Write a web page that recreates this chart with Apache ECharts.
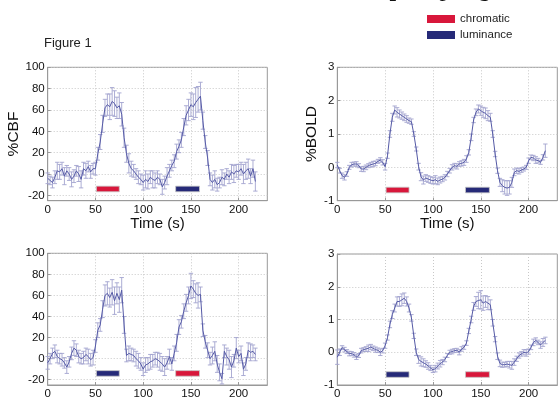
<!DOCTYPE html>
<html>
<head>
<meta charset="utf-8">
<script src="https://cdn.jsdelivr.net/npm/echarts@6/dist/echarts.min.js"></script>
<style>
html, body { margin: 0; padding: 0; background: #fff; }
#chart { width: 558px; height: 400px; }
</style>
</head>
<body>
<div id="chart"></div>
<script>
// sample times (s), one scan every 2.5 s
const times = [
  0, 2.5, 5, 7.5, 10, 12.5, 15, 17.5, 20, 22.5,
  25, 27.5, 30, 32.5, 35, 37.5, 40, 42.5, 45, 47.5,
  50, 52.5, 55, 57.5, 60, 62.5, 65, 67.5, 70, 72.5,
  75, 77.5, 80, 82.5, 85, 87.5, 90, 92.5, 95, 97.5,
  100, 102.5, 105, 107.5, 110, 112.5, 115, 117.5, 120, 122.5,
  125, 127.5, 130, 132.5, 135, 137.5, 140, 142.5, 145, 147.5,
  150, 152.5, 155, 157.5, 160, 162.5, 165, 167.5, 170, 172.5,
  175, 177.5, 180, 182.5, 185, 187.5, 190, 192.5, 195, 197.5,
  200, 202.5, 205, 207.5, 210, 212.5, 215, 217.5
]

// top row: chromatic first
const cbfTop = [
  -4, -6, -8, -3, 3, 2, 5, -2, 3, 0,
  -5, -2, 3, 0, -5, 5, 3, 7, 2, 5,
  5, 19, 30, 47, 62, 65, 63, 68, 66, 62,
  64, 56, 34, 19, 10, 5, 3, 0, -3, -5,
  -8, -5, -7, -3, -5, -6, -3, -5, -12, -8,
  -2, 3, 8, 12, 21, 26, 32, 44, 55, 60,
  65, 63, 67, 70, 73, 50, 30, 15, -5, -8,
  -5, -10, -8, -3, -5, 0, -3, 2, 0, 3,
  2, 5, 0, 3, 5, -2, 5, -7
]
const cbfTopErr = [
  5, 4, 5, 6, 8, 7, 6, 8, 5, 6,
  7, 6, 5, 7, 8, 6, 7, 5, 6, 5,
  6, 6, 7, 8, 8, 10, 12, 13, 12, 10,
  12, 11, 9, 8, 9, 7, 6, 5, 6, 5,
  7, 8, 7, 6, 8, 7, 6, 5, 7, 6,
  8, 6, 5, 6, 7, 6, 7, 8, 9, 10,
  11, 12, 14, 12, 13, 8, 6, 7, 6, 7,
  8, 6, 5, 7, 6, 5, 6, 7, 8, 6,
  7, 6, 9, 8, 9, 7, 8, 9
]
const boldTop = [
  0.07, -0.1, -0.25, -0.3, -0.2, 0.0, 0.08, 0.1, 0.1, 0.05,
  -0.05, -0.05, 0.0, 0.05, 0.08, 0.1, 0.12, 0.18, 0.22, 0.15,
  0.02, 0.35, 1.0, 1.5, 1.72, 1.65, 1.6, 1.55, 1.5, 1.45,
  1.4, 1.37, 1.0, 0.55, 0.02, -0.28, -0.38, -0.32, -0.35, -0.38,
  -0.4, -0.37, -0.42, -0.38, -0.35, -0.3, -0.2, -0.1, 0.0, 0.05,
  0.03, 0.1, 0.12, 0.15, 0.25, 0.45, 0.9, 1.42, 1.65, 1.75,
  1.7, 1.65, 1.62, 1.55, 1.5, 1.0, 0.4, -0.1, -0.45, -0.55,
  -0.6, -0.62, -0.6, -0.45, -0.15, -0.1, -0.12, -0.08, -0.05, 0.0,
  0.2, 0.3, 0.28, 0.22, 0.2, 0.15, 0.3, 0.5
]
const boldTopErr = [
  0.08, 0.07, 0.08, 0.08, 0.07, 0.06, 0.07, 0.06, 0.07, 0.06,
  0.07, 0.08, 0.07, 0.06, 0.07, 0.08, 0.07, 0.06, 0.07, 0.08,
  0.1, 0.08, 0.1, 0.12, 0.12, 0.14, 0.12, 0.11, 0.1, 0.1,
  0.08, 0.08, 0.07, 0.06, 0.1, 0.12, 0.12, 0.1, 0.1, 0.1,
  0.1, 0.12, 0.1, 0.09, 0.08, 0.08, 0.08, 0.07, 0.08, 0.07,
  0.08, 0.07, 0.08, 0.09, 0.1, 0.08, 0.1, 0.08, 0.1, 0.12,
  0.14, 0.15, 0.16, 0.15, 0.12, 0.1, 0.08, 0.08, 0.12, 0.18,
  0.2, 0.22, 0.2, 0.15, 0.1, 0.08, 0.08, 0.07, 0.06, 0.06,
  0.08, 0.07, 0.08, 0.1, 0.07, 0.06, 0.08, 0.2
]

// bottom row: luminance first
const cbfBottom = [
  -4, 0, 5, 7, 2, 0, -1, -4, -8, -3,
  5, 10, 8, 2, 0, 1, 4, 2, -1, 1,
  12, 27, 32, 47, 60, 62, 58, 63, 55, 62,
  56, 65, 32, 3, 5, 4, 3, 0, -2, -5,
  -10, -6, -5, -3, -2, 0, -1, -3, -5, -8,
  -4, 2, -5, 5, 15, 30, 35, 45, 53, 60,
  69, 66, 62, 60, 61, 27, 16, 8, 0, 3,
  7, -5, -13, -19, 7, 2, -1, -8, -2, 10,
  2, 5, -10, -5, 8, 6, 7, 4
]
const cbfBottomErr = [
  6, 5, 5, 6, 6, 5, 6, 5, 6, 5,
  6, 7, 6, 6, 5, 6, 6, 7, 6, 7,
  6, 7, 6, 8, 10, 11, 9, 12, 13, 10,
  12, 12, 8, 6, 7, 6, 6, 7, 7, 6,
  6, 7, 6, 7, 6, 6, 7, 8, 7, 8,
  6, 7, 6, 7, 8, 7, 6, 7, 8, 8,
  12, 8, 9, 12, 7, 6, 6, 7, 6, 8,
  9, 8, 8, 5, 6, 8, 9, 10, 6, 10,
  6, 7, 6, 6, 7, 8, 6, 6
]
const boldBottom = [
  -0.15, 0.0, 0.14, 0.08, 0.02, -0.04, -0.04, -0.08, -0.14, -0.1,
  0.05, 0.08, 0.1, 0.12, 0.16, 0.12, 0.08, 0.06, 0.0, 0.05,
  0.2, 0.45, 0.85, 1.15, 1.35, 1.55, 1.55, 1.6, 1.65, 1.55,
  1.35, 1.05, 0.5, 0.0, -0.22, -0.28, -0.32, -0.36, -0.42, -0.48,
  -0.54, -0.5, -0.42, -0.35, -0.3, -0.22, -0.1, 0.0, 0.02, 0.05,
  0.06, 0.0, 0.1, 0.15, 0.28, 0.65, 1.0, 1.4, 1.55, 1.58,
  1.6, 1.5, 1.55, 1.5, 1.45, 0.9, 0.4, -0.12, -0.34, -0.38,
  -0.38, -0.36, -0.38, -0.4, -0.3, -0.2, -0.1, -0.05, 0.0, -0.02,
  0.02, 0.15, 0.3, 0.36, 0.3, 0.22, 0.3, 0.36
]
const boldBottomErr = [
  0.22, 0.1, 0.06, 0.07, 0.06, 0.07, 0.06, 0.07, 0.08, 0.06,
  0.07, 0.06, 0.07, 0.1, 0.08, 0.07, 0.08, 0.07, 0.1, 0.07,
  0.08, 0.08, 0.1, 0.12, 0.12, 0.14, 0.15, 0.18, 0.16, 0.14,
  0.12, 0.1, 0.08, 0.1, 0.12, 0.14, 0.12, 0.1, 0.1, 0.08,
  0.08, 0.1, 0.09, 0.1, 0.08, 0.07, 0.06, 0.06, 0.07, 0.06,
  0.06, 0.08, 0.07, 0.06, 0.07, 0.08, 0.1, 0.12, 0.15, 0.25,
  0.28, 0.22, 0.18, 0.2, 0.15, 0.1, 0.08, 0.1, 0.1, 0.08,
  0.07, 0.08, 0.1, 0.12, 0.1, 0.08, 0.08, 0.07, 0.08, 0.1,
  0.08, 0.07, 0.1, 0.08, 0.07, 0.1, 0.12, 0.1
]

// stimulus blocks [start, end] in seconds
const blockA = [51, 75]
const blockB = [134, 159]
const cbfBlockLevel = -14
const boldBlockLevel = -0.68

const xTicks = [0, 50, 100, 150, 200]
const cbfTicks = [-20, 0, 20, 40, 60, 80, 100]
const boldTicks = [-1, 0, 1, 2, 3]

const chromaticColor = '#d8173b'
const luminanceColor = '#262a78'
const lineColor = '#555aa6'
const errColor = '#a3a4cf'
const font = 'Liberation Sans, Arial, sans-serif'

function pairs(vals) {
  return times.map((t, i) => [t, vals[i]])
}
function bars(vals, err) {
  return times.map((t, i) => [t, vals[i] - err[i], vals[i] + err[i]])
}

function renderErr(params, api) {
  const x = api.value(0)
  const lo = api.coord([x, api.value(1)])
  const hi = api.coord([x, api.value(2)])
  const w = 2.2
  const style = { stroke: errColor, lineWidth: 0.9 }
  return {
    type: 'group',
    children: [
      { type: 'line', shape: { x1: lo[0], y1: lo[1], x2: hi[0], y2: hi[1] }, style },
      { type: 'line', shape: { x1: lo[0] - w, y1: lo[1], x2: lo[0] + w, y2: lo[1] }, style },
      { type: 'line', shape: { x1: hi[0] - w, y1: hi[1], x2: hi[0] + w, y2: hi[1] }, style },
    ]
  }
}

function renderBlock(params, api) {
  const a = api.coord([api.value(0), api.value(2)])
  const b = api.coord([api.value(1), api.value(2)])
  return {
    type: 'rect',
    shape: { x: a[0], y: a[1] - 2.8, width: b[0] - a[0], height: 5.6 },
    style: { fill: api.visual('color'), stroke: '#c8c8c8', lineWidth: 0.8 }
  }
}

function xAxisFor(idx, named) {
  return {
    type: 'value', gridIndex: idx, min: 0, max: 230,
    name: named ? 'Time (s)' : '',
    nameLocation: 'middle', nameGap: 15,
    nameTextStyle: { fontFamily: font, fontSize: 15, color: '#111' },
    axisLine: { onZero: false, lineStyle: { color: '#999' } },
    axisTick: { inside: true, length: 3, customValues: xTicks, lineStyle: { color: '#999' } },
    axisLabel: { customValues: xTicks, fontFamily: font, fontSize: 11.5, color: '#111', margin: 3 },
    splitLine: { show: true, lineStyle: { color: '#c8c8c8', type: [1, 2] } },
  }
}

function yAxisFor(idx, min, max, ticks, name, gap) {
  return {
    type: 'value', gridIndex: idx, min, max,
    name, nameLocation: 'middle', nameGap: gap,
    nameTextStyle: { fontFamily: font, fontSize: 15.5, color: '#111' },
    axisLine: { show: true, lineStyle: { color: '#999' } },
    axisTick: { show: true, inside: true, length: 3, customValues: ticks, lineStyle: { color: '#999' } },
    axisLabel: { customValues: ticks, fontFamily: font, fontSize: 11.5, color: '#111', margin: 3 },
    splitLine: { show: true, lineStyle: { color: '#c8c8c8', type: [1, 2] } },
  }
}

function panelSeries(idx, vals, err, level, first, second) {
  return [
    {
      type: 'custom', xAxisIndex: idx, yAxisIndex: idx, renderItem: renderErr,
      encode: { x: 0, y: [1, 2] }, data: bars(vals, err), silent: true, z: 2,
    },
    {
      type: 'line', xAxisIndex: idx, yAxisIndex: idx, data: pairs(vals),
      showSymbol: false, lineStyle: { color: lineColor, width: 1 }, z: 3,
    },
    {
      name: first, type: 'custom', xAxisIndex: idx, yAxisIndex: idx, renderItem: renderBlock,
      itemStyle: { color: first === 'chromatic' ? chromaticColor : luminanceColor },
      encode: { x: [0, 1], y: 2 }, data: [[blockA[0], blockA[1], level]], z: 4,
    },
    {
      name: second, type: 'custom', xAxisIndex: idx, yAxisIndex: idx, renderItem: renderBlock,
      itemStyle: { color: second === 'chromatic' ? chromaticColor : luminanceColor },
      encode: { x: [0, 1], y: 2 }, data: [[blockB[0], blockB[1], level]], z: 4,
    },
  ]
}

const chart = echarts.init(document.getElementById('chart'))
const gridBox = { show: true, borderColor: '#999', borderWidth: 1, backgroundColor: '#fff' }

chart.setOption({
  animation: false,
  backgroundColor: '#fff',
  legend: {
    orient: 'vertical', left: 427, top: 13, padding: 0,
    itemWidth: 28, itemHeight: 8, itemGap: 4,
    icon: 'rect',
    data: ['chromatic', 'luminance'],
    textStyle: { fontFamily: font, fontSize: 11.5, color: '#222', padding: [0, 0, 0, 0] },
  },
  graphic: [
    {
      type: 'text', x: 44, y: 43,
      style: { text: 'Figure 1', fontFamily: font, fontSize: 13, fill: '#222', verticalAlign: 'middle' }
    },
    {
      type: 'text', x: 255, y: -11,
      style: { text: 'CBF–CMRO₂ coupling', fontFamily: 'Liberation Serif, serif', fontSize: 25, fill: '#111', verticalAlign: 'middle' }
    },
  ],
  grid: [
    Object.assign({ left: 47.7, top: 67.3, width: 219.6, height: 133.4 }, gridBox),
    Object.assign({ left: 337.3, top: 67.3, width: 220, height: 133.4 }, gridBox),
    Object.assign({ left: 47.7, top: 253.3, width: 219.6, height: 135.5 }, gridBox),
    Object.assign({ left: 337.3, top: 254, width: 220, height: 134.3 }, gridBox),
  ],
  xAxis: [xAxisFor(0, true), xAxisFor(1, true), xAxisFor(2, false), xAxisFor(3, false)],
  yAxis: [
    yAxisFor(0, -25, 100, cbfTicks, '%CBF', 24),
    yAxisFor(1, -1, 3, boldTicks, '%BOLD', 17),
    yAxisFor(2, -25, 100, cbfTicks, '', 24),
    yAxisFor(3, -1, 3, boldTicks, '', 17),
  ],
  series: [
    ...panelSeries(0, cbfTop, cbfTopErr, cbfBlockLevel, 'chromatic', 'luminance'),
    ...panelSeries(1, boldTop, boldTopErr, boldBlockLevel, 'chromatic', 'luminance'),
    ...panelSeries(2, cbfBottom, cbfBottomErr, cbfBlockLevel, 'luminance', 'chromatic'),
    ...panelSeries(3, boldBottom, boldBottomErr, boldBlockLevel, 'luminance', 'chromatic'),
  ],
})
</script>
</body>
</html>
